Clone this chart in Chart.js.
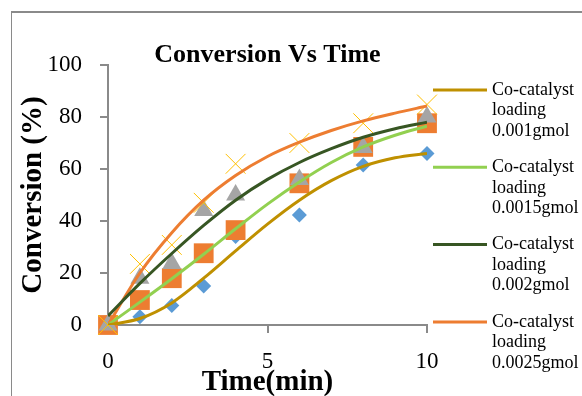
<!DOCTYPE html>
<html>
<head>
<meta charset="utf-8">
<script src="https://cdn.jsdelivr.net/npm/chart.js@4.4.0/dist/chart.umd.min.js"></script>
<style>
    html, body { margin: 0; padding: 0; background: #fff; overflow: hidden; }
    #wrap { position: relative; width: 582px; height: 410px; }
</style>
</head>
<body>
<div id="wrap"><canvas id="chart" width="582" height="410"></canvas></div>
<script>
// Measured conversion (%) at each sampling time
const timeMin = [0, 1, 2, 3, 4, 6, 8, 10];
const conv0010 = [0, 3.2, 7.5, 15, 34, 42.3, 61.5, 66];
const conv0015 = [0, 9.6, 18, 27.6, 36.5, 54.5, 68.5, 77.6];
const conv0020 = [0, 18, 23.7, 44, 50, 56, 68.3, 80];
const conv0025 = [0, 23.5, 30.8, 47, 62, 70, 77.6, 84.8];

// Fitted trend curves, sampled along time
const fitTime = [0, 1, 2, 3, 4, 5, 6, 7, 8, 9, 10];
const fit0010 = [0, 2.5, 8.5, 18, 28.5, 38.8, 48, 55.5, 61, 64.3, 66];
const fit0015 = [0, 8.8, 17.8, 27.2, 37, 46.5, 55, 62.5, 68.5, 73, 76.5];
const fit0020 = [3.5, 16, 27.5, 38.3, 48, 56, 62.5, 67.8, 72.2, 75.5, 78];
const fit0025 = [0, 20, 35.5, 48, 57.5, 64.8, 70.3, 74.8, 78.5, 81.5, 84.2];

const xTicks = [0, 5, 10];
const yTicks = [0, 20, 40, 60, 80, 100];

const legendLabels = [
    ['Co-catalyst', 'loading', '0.001gmol'],
    ['Co-catalyst', 'loading', '0.0015gmol'],
    ['Co-catalyst', 'loading', '0.002gmol'],
    ['Co-catalyst', 'loading', '0.0025gmol']
];

const AXIS_GREY = '#8a8a8a';
const SERIF = '"Liberation Serif", "Times New Roman", serif';

const toPoints = (xs, ys) => xs.map((x, i) => ({ x, y: ys[i] }));

const fitLine = (data, color, label) => ({
    label,
    data,
    showLine: true,
    borderColor: color,
    backgroundColor: color,
    borderWidth: 3,
    pointRadius: 0,
    cubicInterpolationMode: 'monotone',
    order: 0
});

// markers sit on the axes at t = 0, so don't clip them to the plot area
const markers = (data, style, color, radius, order, extra = {}) => ({
    data,
    showLine: false,
    pointStyle: style,
    pointRadius: radius,
    backgroundColor: color,
    borderColor: color,
    borderWidth: 0,
    clip: false,
    order,
    ...extra
});

// Frame, title and the multi-line legend on the right
const decorations = {
    id: 'decorations',
    beforeDraw(chart) {
        const { ctx, width, height } = chart;
        ctx.save();
        ctx.fillStyle = '#fff';
        ctx.fillRect(0, 0, width, height);
        ctx.fillStyle = AXIS_GREY;
        ctx.fillRect(11, 11, width - 11, 2);
        ctx.fillRect(11, 11, 1, height - 11);
        ctx.restore();
    },
    afterDraw(chart) {
        const { ctx, chartArea } = chart;
        ctx.save();
        ctx.fillStyle = '#000';
        ctx.font = `bold 26px ${SERIF}`;
        ctx.textAlign = 'center';
        ctx.textBaseline = 'alphabetic';
        ctx.fillText('Conversion Vs Time', (chartArea.left + chartArea.right) / 2, 62);

        const lines = chart.data.datasets.filter(d => d.showLine);
        ctx.font = `18px ${SERIF}`;
        ctx.textAlign = 'left';
        ctx.textBaseline = 'middle';
        lines.forEach((ds, i) => {
            const y0 = 90 + i * 77.3;
            ctx.strokeStyle = ds.borderColor;
            ctx.lineWidth = 3;
            ctx.beginPath();
            ctx.moveTo(433, y0);
            ctx.lineTo(487, y0);
            ctx.stroke();
            legendLabels[i].forEach((txt, j) => {
                ctx.fillText(txt, 492, y0 + j * 20.5);
            });
        });
        ctx.restore();
    }
};

new Chart(document.getElementById('chart'), {
    type: 'scatter',
    data: {
        datasets: [
            fitLine(toPoints(fitTime, fit0010), '#bf9000', legendLabels[0].join(' ')),
            fitLine(toPoints(fitTime, fit0015), '#92d050', legendLabels[1].join(' ')),
            fitLine(toPoints(fitTime, fit0020), '#375623', legendLabels[2].join(' ')),
            fitLine(toPoints(fitTime, fit0025), '#ed7d31', legendLabels[3].join(' ')),
            markers(toPoints(timeMin, conv0025), 'crossRot', '#ffc000', 14, 1, { borderWidth: 1 }),
            markers(toPoints(timeMin, conv0020), 'triangle', '#a5a5a5', 11, 2),
            markers(toPoints(timeMin, conv0015), 'rect', '#ed7d31', 14, 3),
            markers(toPoints(timeMin, conv0010), 'rectRot', '#5b9bd5', 7.5, 4)
        ]
    },
    options: {
        responsive: false,
        animation: false,
        layout: { padding: { left: 11, top: 65, right: 155, bottom: 0 } },
        plugins: {
            legend: { display: false },
            tooltip: { enabled: false },
            title: { display: false }
        },
        scales: {
            x: {
                type: 'linear',
                min: 0,
                max: 10,
                afterBuildTicks: (scale) => { scale.ticks = xTicks.map(v => ({ value: v })); },
                afterFit: (scale) => { scale.height = 85; },
                grid: { drawOnChartArea: false, color: AXIS_GREY, tickLength: 8, lineWidth: 2 },
                border: { color: AXIS_GREY, width: 2 },
                ticks: { color: '#000', font: { family: SERIF, size: 23 }, padding: 15 },
                title: {
                    display: true,
                    text: 'Time(min)',
                    color: '#000',
                    font: { family: SERIF, size: 29, weight: 'bold' },
                    padding: { top: 0, bottom: 10 }
                }
            },
            y: {
                min: 0,
                max: 100,
                afterBuildTicks: (scale) => { scale.ticks = yTicks.map(v => ({ value: v })); },
                afterFit: (scale) => { scale.width = 97; },
                grid: { drawOnChartArea: false, color: AXIS_GREY, tickLength: 8, lineWidth: 2 },
                border: { color: AXIS_GREY, width: 2 },
                ticks: { color: '#000', font: { family: SERIF, size: 23 }, padding: 18 },
                title: {
                    display: true,
                    text: 'Conversion (%)',
                    color: '#000',
                    font: { family: SERIF, size: 29, weight: 'bold' },
                    padding: { top: 5, bottom: 0 }
                }
            }
        }
    },
    plugins: [decorations]
});
</script>
</body>
</html>
